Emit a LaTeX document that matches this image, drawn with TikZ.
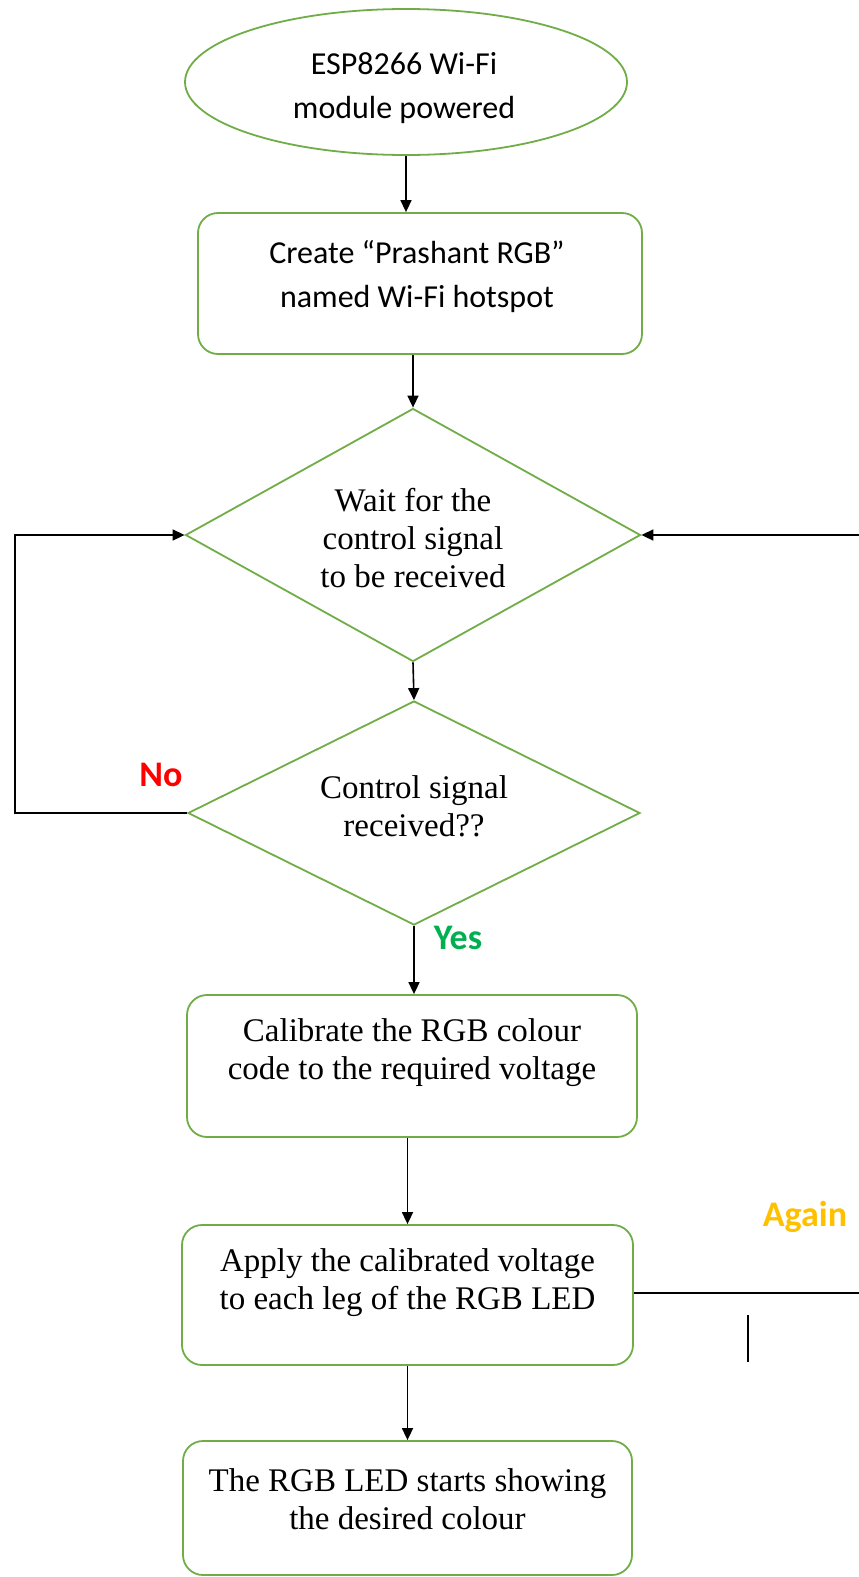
\documentclass[tikz,border=0pt]{standalone}
\usepackage{fontspec}
\setmainfont{Liberation Serif}
\newfontfamily\calibri{Carlito}
\usetikzlibrary{shapes.geometric,arrows.meta}
\definecolor{boxgreen}{HTML}{70AD47}
\definecolor{nored}{HTML}{FF0000}
\definecolor{yesgreen}{HTML}{00B050}
\definecolor{againorange}{HTML}{FFC000}
\begin{document}
\begin{tikzpicture}[x=1pt,y=-1pt,
  shapebox/.style={draw=boxgreen, line width=1.8pt, inner sep=0pt},
  roundbox/.style={shapebox, rectangle, rounded corners=20pt},
  serif/.style={font=\fontsize{33}{38}\selectfont, align=center, inner sep=0pt},
  sans/.style={font=\calibri\fontsize{32}{44}\selectfont, align=center, inner sep=0pt},
  lbl/.style={font=\calibri\bfseries\fontsize{36}{40}\selectfont, inner sep=0pt},
  conn/.style={draw=black, line width=1.6pt},
  arr/.style={conn, -{Triangle[length=12pt,width=11pt]}}]
\useasboundingbox (0,0) rectangle (859,1577);
% shapes
\node[shapebox, ellipse, minimum width=442pt, minimum height=146pt] (start) at (406,82) {};
\node[roundbox, minimum width=444pt, minimum height=141pt] (hot) at (420,283.5) {};
\node[shapebox, diamond, minimum width=455pt, minimum height=253pt] (wait) at (413,535) {};
\node[shapebox, diamond, minimum width=452pt, minimum height=224pt] (recv) at (414,813) {};
\node[roundbox, minimum width=450pt, minimum height=142pt] (calib) at (412,1066) {};
\node[roundbox, minimum width=451pt, minimum height=140pt] (apply) at (407.5,1295) {};
\node[roundbox, minimum width=449pt, minimum height=134pt] (show) at (407.5,1508) {};
% texts
\node[sans] (startT) at (404,88) {ESP8266 Wi-Fi\\module powered};
\node[sans] (hotT) at (417,277) {Create “Prashant RGB”\\named Wi-Fi hotspot};
\node[serif] (waitT) at (413,538) {Wait for the\\control signal\\to be received};
\node[serif] (recvT) at (414,806) {Control signal\\received??};
\node[serif] (calibT) at (412,1053) {Calibrate the RGB colour\\code to the required voltage};
\node[serif] (applyT) at (407.5,1283) {Apply the calibrated voltage\\to each leg of the RGB LED};
\node[serif] (showT) at (407.5,1499) {The RGB LED starts showing\\the desired colour};
% labels
\node[lbl, text=nored] (no) at (161,775) {No};
\node[lbl, text=yesgreen] (yes) at (458,938) {Yes};
\node[lbl, text=againorange] (again) at (805,1217) {Again};
% connectors
\draw[arr] (start.south) -- (start.south |- hot.north);
\draw[arr] (wait.north |- hot.south) -- (wait.north);
\draw[arr] (wait.south) -- (recv.north);
\draw[arr] (recv.south) -- (recv.south |- calib.north);
\draw[arr] (apply.north |- calib.south) -- (apply.north);
\draw[arr] (apply.south) -- (show.north);
\coordinate (noL) at (15,813);
\coordinate (noU) at (15,535);
\draw[arr] (recv.west) -- (noL) -- (noU) -- (wait.west);
\coordinate (agR) at (862,1293);
\coordinate (agU) at (862,535);
\draw[arr] (apply.east |- agR) -- (agR) -- (agU) -- (wait.east);
\coordinate (tickA) at (748,1315);
\coordinate (tickB) at (748,1362);
\draw[conn] (tickA) -- (tickB);
\end{tikzpicture}
\end{document}
